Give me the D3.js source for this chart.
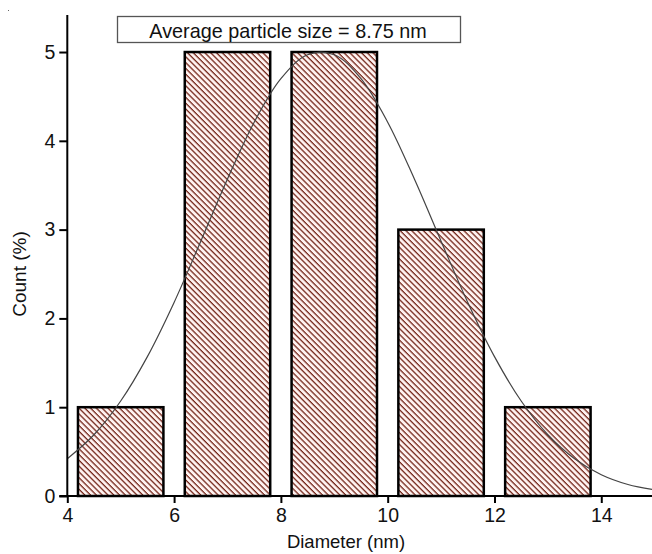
<!DOCTYPE html>
<html><head><meta charset="utf-8">
<script src="https://cdn.jsdelivr.net/npm/d3@7"></script>
<style>body{margin:0;background:#fff}svg{display:block}text{font-family:"Liberation Sans",Arial,sans-serif;fill:#111}</style>
</head><body><svg id="c" width="652" height="554"></svg>
<script>
// Histogram bins (centre, count)
const binCenters = [5, 7, 9, 11, 13];
const binCounts = [1, 5, 5, 3, 1];
const binWidth = 1.6;
// Fitted curve
const curveX = [4, 4.5, 5, 5.5, 6, 6.5, 7, 7.5, 8, 8.5, 9, 9.5, 10, 10.5, 11, 11.5, 12, 12.5, 13, 13.5, 14, 14.5, 15];
const curveY = [0.42, 0.69, 1.07, 1.57, 2.18, 2.87, 3.57, 4.21, 4.70, 4.97, 4.97, 4.70, 4.21, 3.57, 2.87, 2.18, 1.57, 1.07, 0.69, 0.42, 0.24, 0.13, 0.07];
const xTicks = [4, 6, 8, 10, 12, 14];
const yTicks = [0, 1, 2, 3, 4, 5];
const legendText = "Average particle size = 8.75 nm";
const xLabel = "Diameter (nm)";
const yLabel = "Count (%)";

const svg = d3.select("#c");
const x = d3.scaleLinear().domain([4, 14.95]).range([67.3, 652]);
const y = d3.scaleLinear().domain([0, 5.417]).range([496, 15]);

const defs = svg.append("defs");
const pat = defs.append("pattern").attr("id", "hatch").attr("patternUnits", "userSpaceOnUse")
  .attr("width", 4.1).attr("height", 10).attr("patternTransform", "rotate(-45)");
pat.append("rect").attr("width", 4.1).attr("height", 10).attr("fill", "#fff3f1");
pat.append("line").attr("x1", 1).attr("x2", 1).attr("y1", 0).attr("y2", 10)
  .attr("stroke", "#74261a").attr("stroke-width", 1.3);
defs.append("clipPath").attr("id", "plot").append("rect")
  .attr("x", x(4)).attr("y", 0).attr("width", 652 - x(4)).attr("height", y(0));

// bars
svg.append("g").selectAll("rect").data(binCenters).join("rect")
  .attr("x", (d) => x(d - binWidth / 2))
  .attr("width", (d) => x(d + binWidth / 2) - x(d - binWidth / 2))
  .attr("y", (d, i) => y(binCounts[i]))
  .attr("height", (d, i) => y(0) - y(binCounts[i]))
  .attr("fill", "url(#hatch)").attr("stroke", "#000").attr("stroke-width", 2.5);

// curve
const pts = curveX.map((v, i) => [v, curveY[i]]);
svg.append("path").datum(pts).attr("clip-path", "url(#plot)")
  .attr("d", d3.line().x((d) => x(d[0])).y((d) => y(d[1])).curve(d3.curveCatmullRom))
  .attr("fill", "none").attr("stroke", "#444").attr("stroke-width", 1.2);

// axes
const xa = svg.append("g").attr("transform", `translate(0,${y(0)})`)
  .call(d3.axisBottom(x).tickValues(xTicks).tickFormat(d3.format("d")).tickSize(7).tickPadding(5).tickSizeOuter(0));
const ya = svg.append("g").attr("transform", `translate(${x(4)},0)`)
  .call(d3.axisLeft(y).tickValues(yTicks).tickFormat(d3.format("d")).tickSize(8).tickPadding(4).tickSizeOuter(0));
[xa, ya].forEach((g) => {
  g.select(".domain").attr("stroke", "#000").attr("stroke-width", 2);
  g.selectAll(".tick line").attr("stroke", "#000").attr("stroke-width", 2);
  g.selectAll(".tick text").attr("fill", "#111").style("font-size", "19.5px")
    .style("font-family", '"Liberation Sans", Arial, sans-serif');
});
xa.select(".domain").attr("d", `M${x(4) - 8},0H652`);
ya.select(".domain").attr("d", `M0,${y(0)}V15`);

// labels
svg.append("text").attr("x", 346).attr("y", 548).attr("text-anchor", "middle")
  .style("font-size", "18.5px").text(xLabel);
svg.append("text").attr("transform", "translate(26,274) rotate(-90)").attr("text-anchor", "middle")
  .style("font-size", "19px").text(yLabel);

// legend box
svg.append("rect").attr("x", 117.5).attr("y", 16.5).attr("width", 343).attr("height", 26)
  .attr("fill", "#fff").attr("stroke", "#555").attr("stroke-width", 1.3);
svg.append("text").attr("x", 288).attr("y", 37.5).attr("text-anchor", "middle")
  .style("font-size", "19.8px").text(legendText);

svg.append("rect").attr("x", 8).attr("y", 10).attr("width", 1).attr("height", 1).attr("fill", "#666");
</script></body></html>
